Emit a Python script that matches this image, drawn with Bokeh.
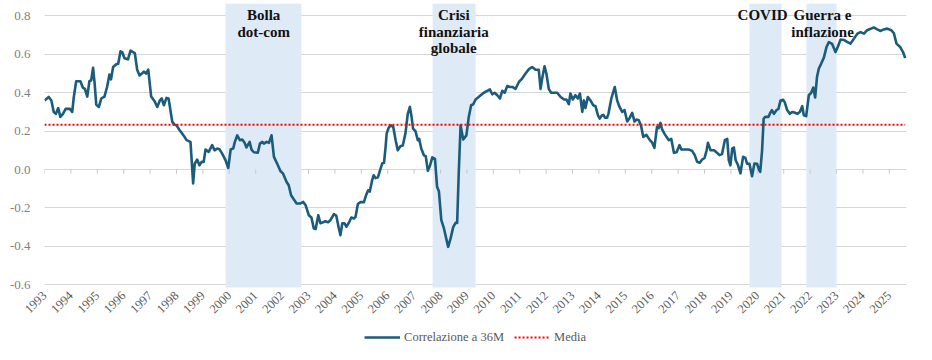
import math
from bokeh.plotting import figure
from bokeh.layouts import column
from bokeh.models import (Range1d, FixedTicker, PrintfTickFormatter, Legend, LegendItem, Label)
from bokeh.embed import file_html
from bokeh.resources import INLINE

# ---- data -------------------------------------------------------------
t = [1993.00, 1993.16, 1993.26, 1993.35, 1993.43, 1993.52, 1993.60, 1993.70, 1993.80, 1993.96,
     1994.05, 1994.11, 1994.20, 1994.36, 1994.45, 1994.53, 1994.62, 1994.70, 1994.77, 1994.84,
     1994.90, 1994.96, 1995.06, 1995.15, 1995.27, 1995.37, 1995.46, 1995.52, 1995.60, 1995.73,
     1995.79, 1995.88, 1995.95, 1996.03, 1996.16, 1996.26, 1996.42, 1996.51, 1996.60, 1996.69,
     1996.76, 1996.85, 1996.93, 1997.04, 1997.17, 1997.27, 1997.37, 1997.44, 1997.52, 1997.62,
     1997.70, 1997.84, 1997.92, 1998.00, 1998.12, 1998.20, 1998.28, 1998.38, 1998.53, 1998.59,
     1998.63, 1998.69, 1998.78, 1998.87, 1998.95, 1999.03, 1999.10, 1999.22, 1999.35, 1999.44,
     1999.54, 1999.63, 1999.73, 1999.86, 1999.96, 2000.05, 2000.15, 2000.21, 2000.30, 2000.40,
     2000.49, 2000.58, 2000.65, 2000.77, 2000.84, 2000.93, 2001.08, 2001.16, 2001.25, 2001.31,
     2001.41, 2001.50, 2001.60, 2001.69, 2001.81, 2001.94, 2002.03, 2002.17, 2002.25, 2002.34,
     2002.44, 2002.55, 2002.70, 2002.80, 2002.89, 2003.01, 2003.11, 2003.20, 2003.27, 2003.37,
     2003.45, 2003.55, 2003.64, 2003.74, 2003.83, 2003.96, 2004.05, 2004.15, 2004.21, 2004.28,
     2004.36, 2004.44, 2004.53, 2004.62, 2004.72, 2004.78, 2004.87, 2004.97, 2005.10, 2005.18,
     2005.26, 2005.32, 2005.41, 2005.47, 2005.54, 2005.63, 2005.73, 2005.79, 2005.86, 2005.92,
     2005.96, 2006.04, 2006.13, 2006.21, 2006.30, 2006.38, 2006.48, 2006.57, 2006.67, 2006.76,
     2006.84, 2006.90, 2006.96, 2007.05, 2007.14, 2007.19, 2007.27, 2007.37, 2007.44, 2007.52,
     2007.60, 2007.69, 2007.79, 2007.87, 2007.94, 2008.03, 2008.13, 2008.23, 2008.29, 2008.38,
     2008.48, 2008.57, 2008.63, 2008.69, 2008.76, 2008.86, 2008.98, 2009.07, 2009.16, 2009.24,
     2009.33, 2009.42, 2009.52, 2009.64, 2009.77, 2009.87, 2009.96, 2010.05, 2010.15, 2010.25,
     2010.34, 2010.43, 2010.53, 2010.63, 2010.72, 2010.84, 2010.97, 2011.09, 2011.22, 2011.35,
     2011.47, 2011.60, 2011.72, 2011.79, 2011.85, 2011.94, 2012.01, 2012.10, 2012.19, 2012.42,
     2012.55, 2012.68, 2012.77, 2012.86, 2012.92, 2013.01, 2013.11, 2013.20, 2013.28, 2013.37,
     2013.43, 2013.49, 2013.58, 2013.68, 2013.78, 2013.87, 2013.96, 2014.03, 2014.10, 2014.17,
     2014.23, 2014.31, 2014.36, 2014.47, 2014.60, 2014.69, 2014.78, 2014.88, 2014.97, 2015.07,
     2015.17, 2015.26, 2015.35, 2015.42, 2015.51, 2015.60, 2015.68, 2015.80, 2015.93, 2016.02,
     2016.10, 2016.20, 2016.26, 2016.33, 2016.39, 2016.48, 2016.56, 2016.65, 2016.74, 2016.84,
     2016.94, 2017.05, 2017.12, 2017.28, 2017.40, 2017.53, 2017.63, 2017.72, 2017.82, 2017.91,
     2018.00, 2018.08, 2018.13, 2018.23, 2018.36, 2018.47, 2018.57, 2018.66, 2018.77, 2018.86,
     2018.92, 2018.98, 2019.05, 2019.11, 2019.18, 2019.27, 2019.36, 2019.46, 2019.55, 2019.61,
     2019.70, 2019.80, 2019.89, 2019.99, 2020.06, 2020.11, 2020.18, 2020.24, 2020.30, 2020.42,
     2020.49, 2020.55, 2020.63, 2020.73, 2020.80, 2020.88, 2020.98, 2021.04, 2021.13, 2021.23,
     2021.32, 2021.41, 2021.51, 2021.61, 2021.70, 2021.76, 2021.85, 2021.95, 2022.04, 2022.12,
     2022.19, 2022.26, 2022.33, 2022.42, 2022.52, 2022.62, 2022.71, 2022.83, 2022.96, 2023.05,
     2023.15, 2023.28, 2023.40, 2023.53, 2023.66, 2023.79, 2023.91, 2024.04, 2024.16, 2024.29,
     2024.41, 2024.54, 2024.67, 2024.79, 2024.92, 2025.07, 2025.17, 2025.27, 2025.40, 2025.52,
     2025.60]

corr = [0.360, 0.378, 0.360, 0.300, 0.290, 0.320, 0.274, 0.290, 0.316, 0.316,
        0.300, 0.378, 0.460, 0.460, 0.427, 0.420, 0.380, 0.460, 0.465, 0.530,
        0.448, 0.338, 0.326, 0.370, 0.380, 0.430, 0.495, 0.470, 0.534, 0.550,
        0.550, 0.616, 0.610, 0.580, 0.574, 0.620, 0.607, 0.520, 0.490, 0.500,
        0.510, 0.500, 0.520, 0.380, 0.356, 0.326, 0.360, 0.370, 0.335, 0.373,
        0.370, 0.248, 0.234, 0.230, 0.205, 0.190, 0.175, 0.153, 0.144, 0.014,
        -0.073, 0.030, 0.052, 0.022, 0.040, 0.040, 0.104, 0.092, 0.127, 0.100,
        0.109, 0.105, 0.083, 0.048, 0.008, 0.104, 0.110, 0.144, 0.178, 0.153,
        0.156, 0.139, 0.115, 0.144, 0.104, 0.090, 0.087, 0.135, 0.144, 0.135,
        0.144, 0.139, 0.178, 0.066, 0.031, -0.009, -0.020, -0.065, -0.082, -0.134,
        -0.155, -0.177, -0.177, -0.169, -0.186, -0.238, -0.250, -0.307, -0.310, -0.238,
        -0.280, -0.275, -0.270, -0.275, -0.264, -0.233, -0.240, -0.307, -0.342, -0.280,
        -0.280, -0.298, -0.277, -0.250, -0.255, -0.247, -0.180, -0.169, -0.170, -0.134,
        -0.108, -0.115, -0.056, -0.030, -0.045, -0.040, 0.005, 0.031, 0.035, 0.118,
        0.187, 0.219, 0.230, 0.222, 0.153, 0.100, 0.121, 0.125, 0.187, 0.290,
        0.326, 0.278, 0.213, 0.200, 0.153, 0.160, 0.109, 0.074, 0.070, -0.007,
        0.020, 0.063, 0.055, -0.090, -0.115, -0.264, -0.307, -0.368, -0.403, -0.360,
        -0.300, -0.278, -0.278, -0.020, 0.230, 0.156, 0.178, 0.274, 0.335, 0.340,
        0.365, 0.375, 0.387, 0.400, 0.410, 0.417, 0.392, 0.400, 0.387, 0.370,
        0.410, 0.400, 0.435, 0.430, 0.430, 0.420, 0.456, 0.474, 0.500, 0.523,
        0.534, 0.520, 0.520, 0.420, 0.474, 0.538, 0.500, 0.420, 0.400, 0.400,
        0.378, 0.365, 0.365, 0.340, 0.396, 0.365, 0.387, 0.370, 0.396, 0.300,
        0.360, 0.320, 0.378, 0.360, 0.335, 0.330, 0.283, 0.265, 0.280, 0.285,
        0.270, 0.270, 0.290, 0.370, 0.430, 0.360, 0.326, 0.300, 0.310, 0.250,
        0.270, 0.295, 0.250, 0.260, 0.257, 0.225, 0.170, 0.180, 0.153, 0.140,
        0.113, 0.222, 0.215, 0.243, 0.210, 0.187, 0.170, 0.153, 0.160, 0.087,
        0.090, 0.127, 0.105, 0.104, 0.104, 0.097, 0.075, 0.040, 0.035, 0.052,
        0.060, 0.100, 0.139, 0.100, 0.100, 0.087, 0.075, 0.080, 0.153, 0.160,
        0.048, 0.022, 0.109, 0.115, 0.048, 0.022, -0.020, 0.066, 0.060, 0.030,
        0.030, -0.035, 0.031, 0.030, 0.000, -0.012, 0.100, 0.265, 0.274, 0.274,
        0.295, 0.310, 0.290, 0.310, 0.316, 0.360, 0.363, 0.350, 0.310, 0.290,
        0.300, 0.297, 0.290, 0.300, 0.330, 0.283, 0.278, 0.387, 0.400, 0.427,
        0.375, 0.482, 0.526, 0.552, 0.583, 0.638, 0.664, 0.655, 0.612, 0.640,
        0.677, 0.675, 0.665, 0.656, 0.682, 0.708, 0.716, 0.708, 0.726, 0.733,
        0.740, 0.730, 0.722, 0.730, 0.734, 0.726, 0.711, 0.656, 0.640, 0.612,
        0.580]

media = 0.233

shade_start = [1999.86, 2007.70, 2019.70, 2021.86]
shade_end = [2002.73, 2009.33, 2020.92, 2023.00]

years = list(range(1993, 2026))
y_ticks = [-0.6, -0.4, -0.2, 0.0, 0.2, 0.4, 0.6, 0.8]

event_lines = [["Bolla", "dot-com"],
               ["Crisi", "finanziaria", "globale"],
               ["COVID"],
               ["Guerra e", "inflazione"]]
event_x = [2001.30, 2008.50, 2020.20, 2022.47]

series_label = "Correlazione a 36M"
media_label = "Media"

# ---- styles -----------------------------------------------------------
FONT = "Liberation Serif"
LINE_COLOR = "#1b5b7c"
MEAN_COLOR = "#ff0000"
Y0, Y1 = -0.62, 0.865

# ---- main figure ------------------------------------------------------
p = figure(width=924, height=322, output_backend="svg", toolbar_location=None,
           x_range=Range1d(1993, 2025.65), y_range=Range1d(Y0, Y1),
           min_border_left=44, min_border_right=18, min_border_top=3,
           min_border_bottom=34)
p.outline_line_color = None
p.background_fill_color = "white"
p.border_fill_color = "white"

# shaded periods
p.quad(left=shade_start, right=shade_end, bottom=Y0 + 0.005, top=Y1,
       fill_color="#dfeaf7", line_color=None)

# grid
p.xgrid.grid_line_color = None
p.ygrid.grid_line_color = "#d6d6d6"
p.ygrid.grid_line_width = 1
p.ygrid.ticker = FixedTicker(ticks=y_ticks)

# small tick marks on the zero line
p.segment(x0=years, y0=[0] * len(years), x1=years, y1=[-0.022] * len(years),
          line_color="#c8c8c8", line_width=1)

# y axis
p.yaxis.ticker = FixedTicker(ticks=y_ticks)
p.yaxis.formatter = PrintfTickFormatter(format="%.1f")
p.yaxis.axis_line_color = None
p.yaxis.major_tick_line_color = None
p.yaxis.minor_tick_line_color = None
p.yaxis.major_tick_out = 0
p.yaxis.major_tick_in = 0
p.yaxis.major_label_standoff = 14
p.yaxis.major_label_text_font = FONT
p.yaxis.major_label_text_font_size = "13px"
p.yaxis.major_label_text_color = "#7f7f7f"

# x axis
p.xaxis.ticker = FixedTicker(ticks=years)
p.xaxis.formatter = PrintfTickFormatter(format="%d")
p.xaxis.axis_line_color = None
p.xaxis.major_tick_line_color = None
p.xaxis.minor_tick_line_color = None
p.xaxis.major_tick_out = 0
p.xaxis.major_tick_in = 0
p.xaxis.major_label_orientation = math.pi / 4
p.xaxis.major_label_standoff = 5
p.xaxis.major_label_text_font = FONT
p.xaxis.major_label_text_font_size = "12.5px"
p.xaxis.major_label_text_color = "#595959"

# series
p.line(t, corr, line_color=LINE_COLOR, line_width=2.6, line_join="round")
p.line([t[0], t[-1]], [media, media], line_color=MEAN_COLOR,
       line_width=2, line_dash="2 2")

# annotations
line_y = [0.804, 0.718, 0.632]
for lines, x in zip(event_lines, event_x):
    for i, txt in enumerate(lines):
        p.add_layout(Label(x=x, y=line_y[i], text=txt, text_align="center",
                           text_baseline="middle", text_font=FONT,
                           text_font_size="15px", text_font_style="bold",
                           text_color="#111111"))

# ---- legend strip (series drawn outside its visible range) ------------
pl = figure(width=924, height=30, output_backend="svg", toolbar_location=None,
            x_range=Range1d(0, 1), y_range=Range1d(0, 1),
            min_border_left=12, min_border_right=0, min_border_top=0,
            min_border_bottom=0)
pl.axis.visible = False
pl.grid.visible = False
pl.outline_line_color = None
r1 = pl.line(t, corr, line_color=LINE_COLOR, line_width=2.6)
r2 = pl.line([t[0], t[-1]], [media, media], line_color=MEAN_COLOR,
             line_width=2, line_dash="2 2")
legend = Legend(items=[LegendItem(label=series_label, renderers=[r1]),
                       LegendItem(label=media_label, renderers=[r2])],
                orientation="horizontal", location="center")
legend.border_line_color = None
legend.background_fill_alpha = 0
legend.label_text_font = FONT
legend.label_text_font_size = "12.5px"
legend.label_text_color = "#595959"
legend.glyph_width = 36
legend.label_standoff = 4
legend.spacing = 10
legend.padding = 0
legend.margin = 0
pl.add_layout(legend, "center")

open("out.html", "w").write(file_html(column(p, pl), INLINE))
